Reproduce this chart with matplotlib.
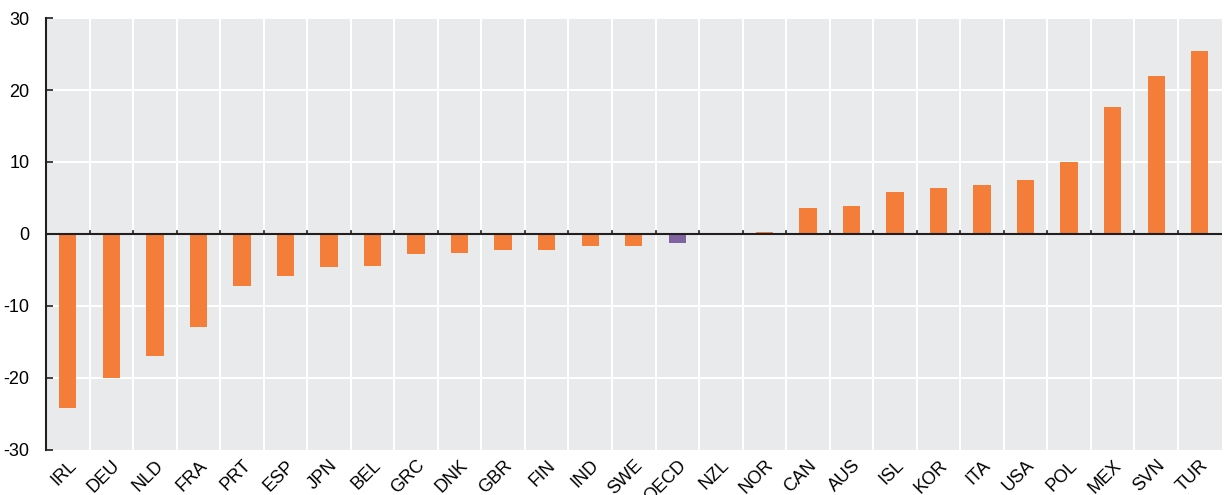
import numpy as np
import matplotlib.pyplot as plt

plt.rcParams["font.family"] = ["Liberation Sans", "DejaVu Sans"]
plt.rcParams["axes.unicode_minus"] = False

countries = ["IRL", "DEU", "NLD", "FRA", "PRT", "ESP", "JPN", "BEL", "GRC", "DNK",
             "GBR", "FIN", "IND", "SWE", "OECD", "NZL", "NOR", "CAN", "AUS", "ISL",
             "KOR", "ITA", "USA", "POL", "MEX", "SVN", "TUR"]
values = [-24.2, -20.0, -16.9, -12.9, -7.2, -5.8, -4.6, -4.4, -2.8, -2.7,
          -2.2, -2.2, -1.6, -1.7, -1.2, 0.0, 0.3, 3.6, 3.9, 5.8,
          6.4, 6.8, 7.5, 10.0, 17.6, 21.9, 25.4]

orange = "#F47D3A"
purple = "#8064A2"
colors = [purple if c == "OECD" else orange for c in countries]

fig = plt.figure(figsize=(12.24, 4.95), dpi=100)
ax = fig.add_axes([0.0376, 0.091, 0.9604, 0.8726])
ax.set_facecolor("#E9EAEC")

x = np.arange(len(countries))
ax.bar(x, values, width=0.4, color=colors, zorder=3)

ax.set_xlim(-0.5, len(countries) - 0.5)
ax.set_ylim(-30, 30)
ax.set_yticks(range(-30, 31, 10))

# white grid: horizontal at y ticks, vertical between categories
for y in range(-20, 31, 10):
    ax.axhline(y, color="white", lw=1.5, zorder=1)
for b in x[:-1] + 0.5:
    ax.axvline(b, color="white", lw=1.5, zorder=1)
    ax.plot([b, b], [0, 0.35], color="#231F20", lw=1.2, zorder=4)

ax.axhline(0, color="#231F20", lw=1.5, zorder=4)

for s in ["top", "right", "bottom"]:
    ax.spines[s].set_visible(False)
ax.spines["left"].set_color("#231F20")
ax.spines["left"].set_linewidth(1.5)

ax.set_xticks(x)
ax.set_xticklabels(countries, rotation=45, ha="right", rotation_mode="anchor", fontsize=13)
ax.tick_params(axis="x", length=0, pad=5)
ax.tick_params(axis="y", direction="in", length=5, width=1.2, labelsize=13, color="#231F20", pad=12)

fig.savefig("out.png", dpi=100)
